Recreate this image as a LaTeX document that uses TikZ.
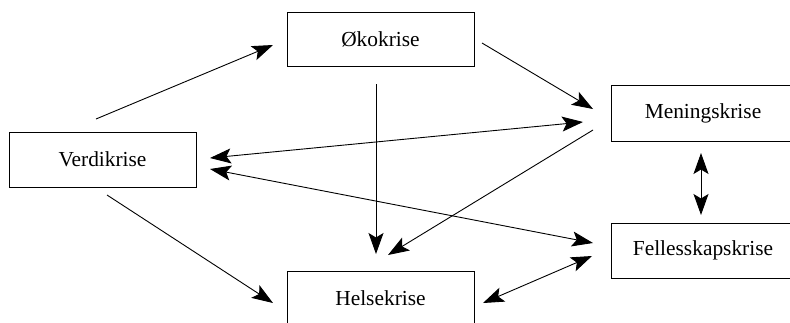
\documentclass[tikz,border=0pt]{standalone}
\usepackage{fontspec}
\setmainfont{Liberation Serif}
\usetikzlibrary{arrows.meta}
\begin{document}
\begin{tikzpicture}[x=1pt,y=-1pt,
  crisis/.style={draw, line width=1pt, rectangle, minimum height=55pt, inner sep=0pt,
    font=\fontsize{21.4}{25}\selectfont},
  conn/.style={line width=0.9pt, -{Stealth[length=21pt,width=15pt,inset=4.5pt]}},
  conn2/.style={line width=0.9pt, {Stealth[length=21pt,width=15pt,inset=4.5pt]}-{Stealth[length=21pt,width=15pt,inset=4.5pt]}}]
\useasboundingbox (0,0) rectangle (790,322);
\clip (0,0) rectangle (790,322);
\fill[white] (0,0) rectangle (790,322);
\node[crisis, minimum width=187pt, minimum height=54pt] (oko) at (380.5,39) {Økokrise};
\node[crisis, minimum width=187pt] (verdi) at (102.5,159.5) {Verdikrise};
\node[crisis, minimum width=184pt, minimum height=56pt] (mening) at (703,113) {Meningskrise};
\node[crisis, minimum width=184pt] (felles) at (703,250.5) {Fellesskapskrise};
\node[crisis, minimum width=187pt] (helse) at (380.5,298.5) {Helsekrise};
% connector end points
\coordinate (v1) at (96,119);   \coordinate (o1) at (273,45);
\coordinate (o2) at (482,43);   \coordinate (m1) at (593,109);
\coordinate (v2) at (210,158);  \coordinate (m2) at (583,122);
\coordinate (v3) at (210,169);  \coordinate (f1) at (593,243);
\coordinate (m3) at (593,130);  \coordinate (h1) at (388,255);
\coordinate (o3) at (376,84);   \coordinate (h2) at (376,254);
\coordinate (v4) at (107,195);  \coordinate (h3) at (273,303);
\coordinate (h4) at (483,303);  \coordinate (f2) at (592,256);
\coordinate (m4) at (701,153);  \coordinate (f3) at (701,215);
\draw[conn] (v1) -- (o1);
\draw[conn] (o2) -- (m1);
\draw[conn2] (v2) -- (m2);
\draw[conn2] (v3) -- (f1);
\draw[conn] (m3) -- (h1);
\draw[conn] (o3) -- (h2);
\draw[conn] (v4) -- (h3);
\draw[conn2] (h4) -- (f2);
\draw[conn2] (m4) -- (f3);
\end{tikzpicture}
\end{document}
